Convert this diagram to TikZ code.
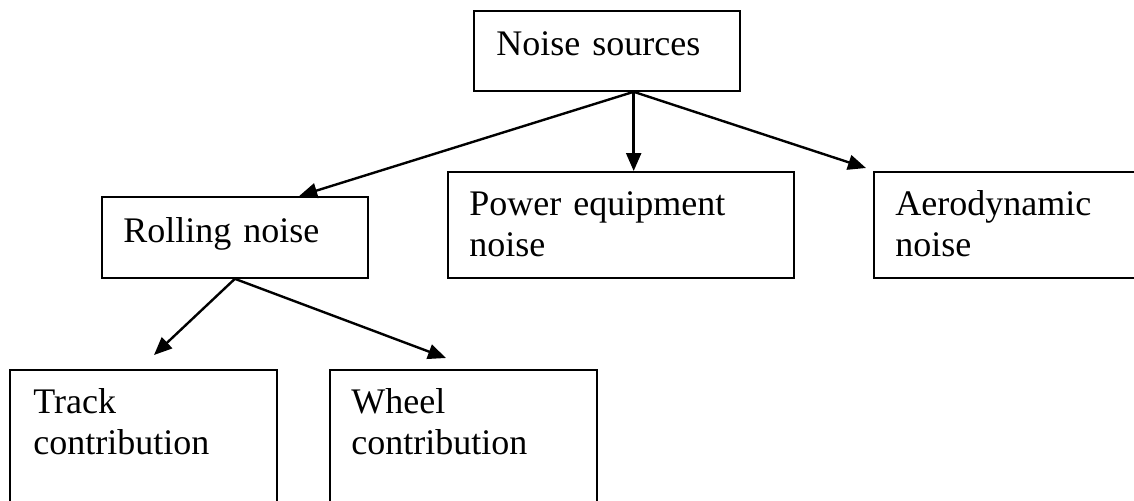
\documentclass[tikz,border=0pt]{standalone}
\usepackage{fontspec}
\setmainfont{Liberation Serif}
\usetikzlibrary{arrows.meta, calc}

\begin{document}
\begin{tikzpicture}[
    x = 0.5pt, y = -0.5pt,
    box/.style = {
      draw,
      rectangle,
      line width = 0.9pt,
      anchor = north west,
      inner sep = 0pt,
    },
    box text/.style = {
      anchor = base west,
      inner sep = 0pt,
      text width = 160pt,
      align = left,
      font = \fontsize{18}{20.5}\selectfont,
    },
    link/.style = {
      -{Triangle[length = 9pt, width = 7.5pt]},
      line width = 1.2pt,
    },
  ]
  \useasboundingbox (0, 0) rectangle (1134, 500);
  \clip (0, 0) rectangle (1134, 500);

  % boxes
  \node [box, minimum width = 133pt, minimum height = 40pt]   (noise)   at (473, 10)  {};
  \node [box, minimum width = 133pt, minimum height = 40.5pt] (rolling) at (101, 196) {};
  \node [box, minimum width = 173pt, minimum height = 53pt]   (power)   at (447, 171) {};
  \node [box, minimum width = 150pt, minimum height = 53pt]   (aero)    at (873, 171) {};
  \node [box, minimum width = 133.5pt, minimum height = 100pt] (track)  at (9, 369)   {};
  \node [box, minimum width = 133.5pt, minimum height = 100pt] (wheel)  at (329, 369) {};

  % texts, first baseline 45 below the top edge
  \node [box text] (noise text)   at ([xshift = 11.5pt, yshift = -22.5pt] noise.north west)   {Noise sources};
  \node [box text] (rolling text) at ([xshift = 11pt, yshift = -23pt] rolling.north west)   {Rolling noise};
  \node [box text] (power text)   at ([xshift = 11pt, yshift = -22pt] power.north west)     {Power equipment\\ noise};
  \node [box text] (aero text)    at ([xshift = 11pt, yshift = -22pt] aero.north west)      {Aerodynamic\\ noise};
  \node [box text] (track text)   at ([xshift = 12pt, yshift = -22pt] track.north west)     {Track\\ contribution};
  \node [box text] (wheel text)   at ([xshift = 11pt, yshift = -22pt] wheel.north west)     {Wheel\\ contribution};

  % arrow ends
  \coordinate (noise out)  at ($(noise.south west)!0.6!(noise.south east)$);
  \coordinate (rolling in) at ($(rolling.north west)!0.74!(rolling.north east)$);
  \coordinate (aero in)    at ($(aero.north west) + (-7, -3)$);
  \coordinate (track in)   at ($(track.north west) + (145, -14)$);
  \coordinate (wheel in)   at ($(wheel.north west) + (117, -11)$);

  \draw [link] (noise out) -- (rolling in);
  \draw [link] (noise out) -- (noise out |- power.north);
  \draw [link] (noise out) -- (aero in);
  \draw [link] (rolling.south) -- (track in);
  \draw [link] (rolling.south) -- (wheel in);
\end{tikzpicture}
\end{document}
